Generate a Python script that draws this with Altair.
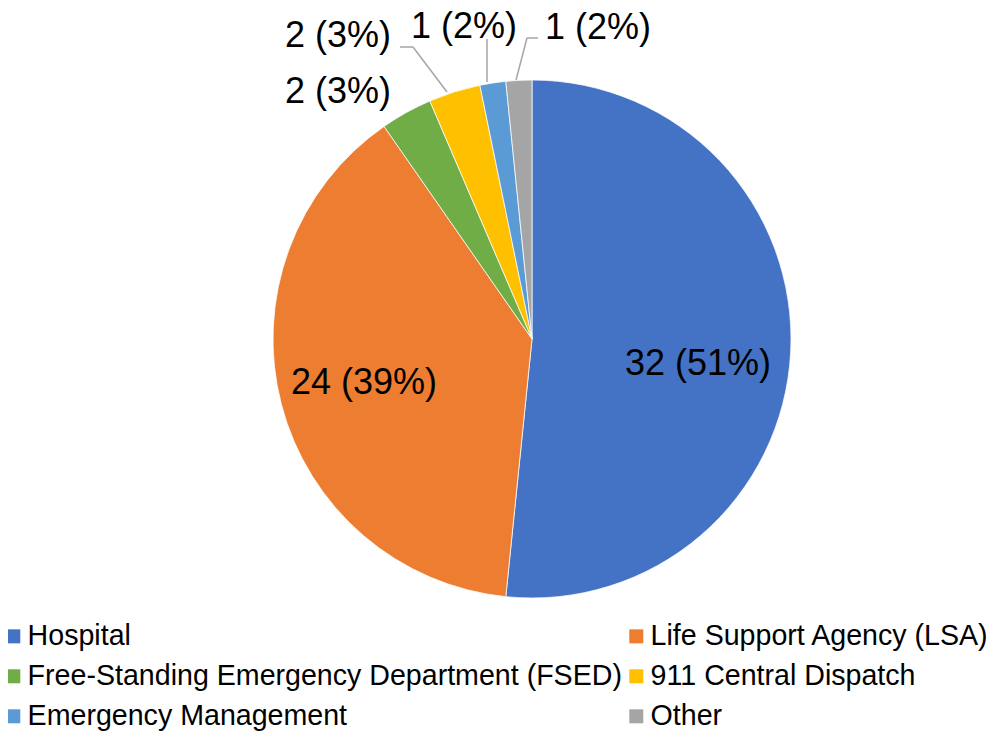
import altair as alt
import pandas as pd

# ---- data ----
categories = [
    "Hospital",
    "Life Support Agency (LSA)",
    "Free-Standing Emergency Department (FSED)",
    "911 Central Dispatch",
    "Emergency Management",
    "Other",
]
counts = [32, 24, 2, 2, 1, 1]
percent_labels = ["51%", "39%", "3%", "3%", "2%", "2%"]
colors = ["#4472C4", "#ED7D31", "#70AD47", "#FFC000", "#5B9BD5", "#A5A5A5"]

# ---- layout / style ----
W, H = 986, 725
CX, CY, R = 524, 331, 259
# label anchor offsets from pie centre (px)
label_offsets = [(166, 25), (-168, 44), (-194, -247), (-194, -303), (-68, -312), (66, -311)]
# leader lines: polylines (offsets from pie centre), keyed by category index
leaders = {
    3: [(-85, -247), (-119, -292), (-132, -292)],
    4: [(-45, -257), (-45, -300)],
    5: [(-16, -259), (-5, -301), (6, -301)],
}

df = pd.DataFrame({
    "category": categories,
    "count": counts,
    "order": list(range(len(categories))),
    "label": [f"{c} ({p})" for c, p in zip(counts, percent_labels)],
    "lx": [CX + dx for dx, dy in label_offsets],
    "ly": [CY + dy for dx, dy in label_offsets],
})

seg_rows = []
for idx, pts in leaders.items():
    for (ax, ay), (bx, by) in zip(pts[:-1], pts[1:]):
        seg_rows.append({"category": categories[idx], "x": CX + ax, "y": CY + ay,
                         "x2": CX + bx, "y2": CY + by})
seg = pd.DataFrame(seg_rows)

FONT = "Liberation Sans"

pie = alt.Chart(df).mark_arc(radius=R, stroke="white", strokeWidth=0.75).encode(
    theta=alt.Theta("count:Q", stack=True),
    color=alt.Color(
        "category:N",
        scale=alt.Scale(domain=categories, range=colors),
        sort=categories,
        legend=alt.Legend(
            title=None, orient="none", direction="horizontal",
            legendX=-9, legendY=614, columns=2,
            symbolType="square", symbolSize=196, symbolStrokeWidth=0,
            labelFont=FONT, labelFontSize=28.6, labelColor="#000000",
            labelOffset=0, rowPadding=11, columnPadding=0, labelLimit=800,
            padding=0,
        ),
    ),
    order=alt.Order("order:Q", sort="ascending"),
    x=alt.value(CX),
    y=alt.value(CY),
)

lines = alt.Chart(seg).mark_rule(color="#A6A6A6", strokeWidth=1.5).encode(
    x=alt.X("x:Q", scale=None, axis=None),
    y=alt.Y("y:Q", scale=None, axis=None),
    x2="x2:Q",
    y2="y2:Q",
)

labels = alt.Chart(df).mark_text(
    font=FONT, fontSize=36, color="#000000", align="center", baseline="middle"
).encode(
    x=alt.X("lx:Q", scale=None, axis=None),
    y=alt.Y("ly:Q", scale=None, axis=None),
    text="label:N",
)

chart = alt.layer(pie, lines, labels).properties(
    width=W, height=H, autosize=alt.AutoSizeParams(type="none"), padding=0,
    background="white",
).configure_view(stroke=None)

chart.save("out.html", embed_options={"renderer": "svg", "actions": False})
